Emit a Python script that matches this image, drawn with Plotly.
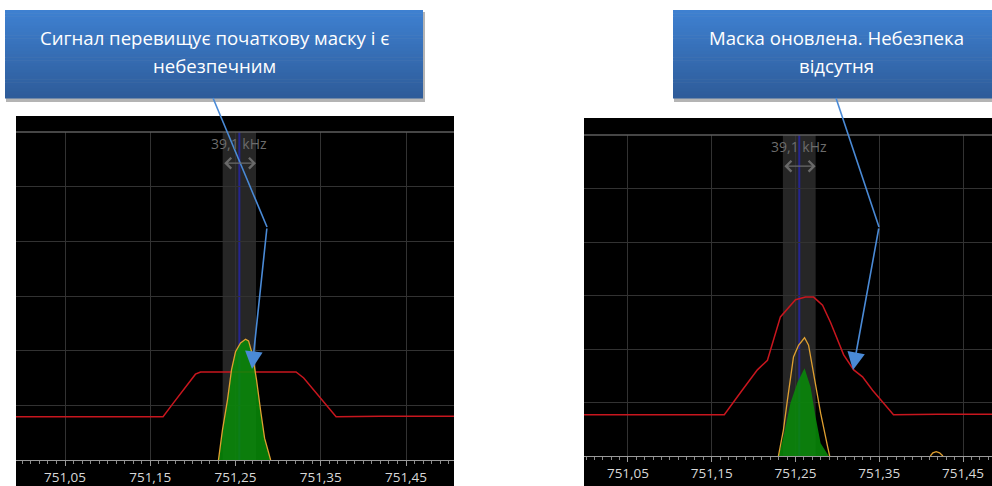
import plotly.graph_objects as go

# ---------------- data ----------------
tick_vals = [751.05, 751.15, 751.25, 751.35, 751.45]
tick_text = ["751,05", "751,15", "751,25", "751,35", "751,45"]

band_center = 751.2545      # MHz
band_width_khz = 39.1       # kHz
band_label = "39,1 kHz"

# left panel (initial mask)
left_mask_f = [750.99, 751.165, 751.177, 751.203, 751.209, 751.321, 751.330, 751.368, 751.42, 751.51]
left_mask_v = [7.9, 7.9, 10.4, 15.7, 16.1, 16.1, 15.0, 7.9, 8.0, 8.0]
left_sig_f = [751.2300, 751.2347, 751.2406, 751.2453, 751.2500, 751.2559, 751.2618,
              751.2653, 751.2700, 751.2747, 751.2794, 751.2841, 751.2912]
left_sig_v = [0, 5.5, 11.0, 16.5, 19.8, 21.4, 22.1, 21.8, 19.2, 14.6, 9.1, 4.0, 0]

# right panel (updated mask)
right_mask_f = [750.99, 751.165, 751.185, 751.2045, 751.2165, 751.232, 751.250, 751.262, 751.2716,
                751.2823, 751.292, 751.3075, 751.3195, 751.330, 751.342, 751.367, 751.42, 751.49]
right_mask_v = [7.7, 7.7, 12.0, 16.1, 17.9, 26.0, 29.2, 29.7, 29.7,
                28.2, 24.9, 18.9, 16.1, 14.8, 12.3, 7.7, 7.8, 7.8]
right_max_f = [751.2296, 751.2356, 751.2404, 751.2476, 751.2536, 751.2608, 751.2656,
               751.2716, 751.2800, 751.2884, 751.2908,
               None, 751.411, 751.414, 751.418, 751.422, 751.426]
right_max_v = [0, 4.9, 10.5, 18.5, 20.7, 22.1, 20.7, 15.5, 8.0, 1.7, 0,
               None, 0, 0.6, 0.8, 0.6, 0]
right_sig_f = [751.2296, 751.2356, 751.2440, 751.2524, 751.2608, 751.2680, 751.2740, 751.2800, 751.2896]
right_sig_v = [0, 3.6, 9.9, 13.8, 16.4, 12.9, 7.3, 2.4, 0]

left_text = ["Сигнал перевищує початкову маску і є", "небезпечним"]
right_text = ["Маска оновлена. Небезпека", "відсутня"]

# ---------------- layout constants ----------------
W, H = 992, 486
def px(x): return x / W
def py(y): return 1 - y / H

RED = "#c8161e"
ORANGE = "#e0a030"
GREEN = "rgba(8,140,8,0.86)"
GRID = "#323232"
AXIS_FONT = dict(family="Open Sans", size=13.5, color="#d8d8d8")

fig = go.Figure()

panels = [
    dict(xa="x", ya="y", mask=(left_mask_f, left_mask_v), sig=(left_sig_f, left_sig_v),
         mx=(left_sig_f, left_sig_v),
         xdom=[px(16), px(454)], ydom=[py(460), py(132)], xr=[750.9925, 751.5063],
         black=(16, 116, 454, 486), lab_y=0.966, arr_y=0.905),
    dict(xa="x2", ya="y2", mask=(right_mask_f, right_mask_v), sig=(right_sig_f, right_sig_v),
         mx=(right_max_f, right_max_v),
         xdom=[px(584), 1.0], ydom=[py(456), py(135)], xr=[750.9975, 751.4846],
         black=(584, 118, 992, 486), lab_y=0.963, arr_y=0.903),
]

shapes = []
annotations = []
bw = band_width_khz / 1000.0

for i, p in enumerate(panels):
    xa, ya = p["xa"], p["ya"]
    fig.add_trace(go.Scatter(x=p["mask"][0], y=p["mask"][1], mode="lines",
                             line=dict(color=RED, width=1.5), xaxis=xa, yaxis=ya,
                             showlegend=False, hoverinfo="skip"))
    fig.add_trace(go.Scatter(x=p["sig"][0], y=p["sig"][1], mode="lines", fill="tozeroy",
                             fillcolor=GREEN, line=dict(width=0, color=GREEN),
                             xaxis=xa, yaxis=ya, showlegend=False, hoverinfo="skip"))
    fig.add_trace(go.Scatter(x=p["mx"][0], y=p["mx"][1], mode="lines",
                             line=dict(color=ORANGE, width=1.3), xaxis=xa, yaxis=ya,
                             showlegend=False, hoverinfo="skip", connectgaps=False))

    bx0, by0, bx1, by1 = p["black"]
    shapes.append(dict(type="rect", xref="paper", yref="paper", x0=px(bx0), x1=px(bx1),
                       y0=py(by1), y1=py(by0), fillcolor="black", line=dict(width=0),
                       layer="below"))
    shapes.append(dict(type="rect", xref=xa, yref="paper",
                       x0=band_center - bw / 2, x1=band_center + bw / 2,
                       y0=p["ydom"][0], y1=p["ydom"][1],
                       fillcolor="#262626", line=dict(width=0), layer="below"))
    shapes.append(dict(type="line", xref=xa, yref="paper",
                       x0=band_center, x1=band_center, y0=p["ydom"][0], y1=p["ydom"][1],
                       line=dict(color="#25258f", width=2), layer="below"))
    shapes.append(dict(type="line", xref="paper", yref="paper",
                       x0=p["xdom"][0], x1=p["xdom"][1], y0=p["ydom"][1], y1=p["ydom"][1],
                       line=dict(color="#5e5e5e", width=1.5), layer="above"))
    hy = p["ydom"][1] - p["ydom"][0]
    annotations.append(dict(xref=xa, yref="paper", x=band_center,
                            y=p["ydom"][0] + hy * p["lab_y"],
                            text=band_label, showarrow=False, xanchor="center", yanchor="middle",
                            font=dict(family="Open Sans", size=14, color="#6c6c6c")))
    annotations.append(dict(xref=xa, yref="paper", x=band_center + bw / 2,
                            y=p["ydom"][0] + hy * p["arr_y"], axref=xa, ayref="pixel",
                            ax=band_center - bw / 2, ay=0, text="",
                            showarrow=True, arrowside="end+start", arrowhead=4,
                            arrowsize=1.6, arrowwidth=1.3, arrowcolor="#6a6a6a"))

    axis_x = dict(domain=p["xdom"], range=p["xr"], tickmode="array", tickvals=tick_vals,
                  ticktext=tick_text, showgrid=True, gridcolor=GRID, gridwidth=1,
                  showline=True, linecolor="#9a9a9a", linewidth=1.2,
                  ticks="outside", ticklen=5, tickcolor="#9a9a9a", tickwidth=1,
                  minor=dict(tickmode="linear", tick0=751.05, dtick=0.01, ticks="outside",
                             ticklen=3, tickcolor="#8a8a8a", showgrid=False),
                  tickfont=AXIS_FONT, ticklabelstandoff=0, zeroline=False,
                  automargin=False, fixedrange=True)
    axis_y = dict(domain=p["ydom"], range=[0, 60], tickmode="linear", tick0=0, dtick=10,
                  showgrid=True, gridcolor=GRID, gridwidth=1, showticklabels=False,
                  zeroline=False, showline=False, ticks="", automargin=False, fixedrange=True)
    if i == 0:
        fig.update_layout(xaxis=dict(axis_x, anchor="y"), yaxis=dict(axis_y, anchor="x"))
    else:
        fig.update_layout(xaxis2=dict(axis_x, anchor="y2"), yaxis2=dict(axis_y, anchor="x2"))

# ---------------- callout boxes ----------------
def callout(x0, y0, x1, y1, lines, tcx, seg_from, seg_mid, tip):
    shapes.append(dict(type="rect", xref="paper", yref="paper", x0=px(x0 + 1), x1=px(min(x1 + 2, W)),
                       y0=py(y1 + 4), y1=py(y0 + 2), fillcolor="#b4b4b4",
                       line=dict(width=0), layer="above"))
    n = 28
    c0 = (62, 128, 208)
    c1 = (46, 92, 154)
    for k in range(n):
        t = k / (n - 1)
        c = tuple(int(round(c0[j] + (c1[j] - c0[j]) * t)) for j in range(3))
        ya_ = y0 + (y1 - y0) * k / n
        yb_ = y0 + (y1 - y0) * (k + 1) / n
        shapes.append(dict(type="rect", xref="paper", yref="paper", x0=px(x0), x1=px(x1),
                           y0=py(yb_ + 0.5), y1=py(ya_), fillcolor="rgb(%d,%d,%d)" % c,
                           line=dict(width=0), layer="above"))
    for j, yy in enumerate((37, 66)):
        annotations.append(dict(xref="paper", yref="paper", x=px(tcx), y=py(yy), text=lines[j],
                                showarrow=False, xanchor="center", yanchor="middle",
                                font=dict(family="Open Sans", size=18.6, color="white")))
    shapes.append(dict(type="line", xref="paper", yref="paper",
                       x0=px(seg_from[0]), y0=py(seg_from[1]), x1=px(seg_mid[0]), y1=py(seg_mid[1]),
                       line=dict(color="#4a8ad6", width=1.6), layer="above"))
    annotations.append(dict(xref="paper", yref="paper", x=px(tip[0]), y=py(tip[1]),
                            axref="pixel", ayref="pixel",
                            ax=seg_mid[0] - tip[0], ay=seg_mid[1] - tip[1], text="",
                            showarrow=True, arrowhead=2, arrowsize=2.2, arrowwidth=1.6,
                            arrowcolor="#4a8ad6"))

callout(5, 10, 423, 98, left_text, 214, (213, 98), (267, 227), (252, 369))
callout(673, 10, 992, 98, right_text, 836, (836, 98), (879, 227), (853, 370))

fig.update_layout(width=W, height=H, margin=dict(l=0, r=0, t=0, b=0, autoexpand=False),
                  paper_bgcolor="white", plot_bgcolor="black",
                  shapes=shapes, annotations=annotations, showlegend=False)

fig.write_html("out.html", config={"displayModeBar": False},
               post_script="document.body.style.margin='0';document.body.style.overflow='hidden';")
